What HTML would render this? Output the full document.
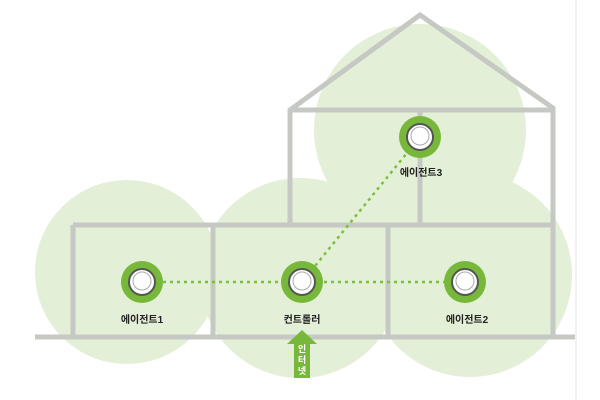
<!DOCTYPE html>
<html><head><meta charset="utf-8"><style>body{margin:0;background:#fff}svg{display:block}text{font-family:"Liberation Sans","Noto Sans CJK KR",sans-serif;font-weight:bold}</style></head><body>
<svg width="600" height="400" viewBox="0 0 600 400">
<line x1="576" y1="0" x2="576" y2="400" stroke="#e6e6e6" stroke-width="1"/>
<g fill="#e3efd6">
<circle cx="127" cy="272" r="92"/>
<circle cx="300" cy="278" r="100"/>
<circle cx="470" cy="275" r="102"/>
<circle cx="420" cy="130" r="106"/>
</g>
<g stroke="#c6c9c3" stroke-width="5" fill="none">
<polyline points="290,225 290,110 420,15 553,108 553,337"/>
<line x1="290" y1="110" x2="553" y2="110"/>
<line x1="420" y1="110" x2="420" y2="225"/>
<line x1="73" y1="225" x2="553" y2="225"/>
<line x1="73" y1="225" x2="73" y2="337"/>
<line x1="213" y1="225" x2="213" y2="337"/>
<line x1="388" y1="225" x2="388" y2="337"/>
<line x1="35" y1="337" x2="575" y2="337"/>
</g>
<g stroke="#7bbf3c" stroke-width="2.5" stroke-dasharray="3,4">
<line x1="142" y1="282" x2="465" y2="282"/>
<line x1="302" y1="282" x2="420" y2="137"/>
</g>
<g>
<circle cx="142" cy="282" r="21" fill="#77b83a"/><circle cx="142" cy="282" r="13" fill="#fff" stroke="#555" stroke-width="2"/><circle cx="142" cy="281" r="9" fill="none" stroke="#aaa" stroke-width="1"/>
<circle cx="302" cy="282" r="21" fill="#77b83a"/><circle cx="302" cy="282" r="13" fill="#fff" stroke="#555" stroke-width="2"/><circle cx="302" cy="281" r="9" fill="none" stroke="#aaa" stroke-width="1"/>
<circle cx="465" cy="282" r="21" fill="#77b83a"/><circle cx="465" cy="282" r="13" fill="#fff" stroke="#555" stroke-width="2"/><circle cx="465" cy="281" r="9" fill="none" stroke="#aaa" stroke-width="1"/>
<circle cx="420" cy="137" r="21" fill="#77b83a"/><circle cx="420" cy="137" r="13" fill="#fff" stroke="#555" stroke-width="2"/><circle cx="420" cy="136" r="9" fill="none" stroke="#aaa" stroke-width="1"/>
</g>
<g font-size="10" fill="#222" text-anchor="middle">
<text x="142" y="323">에이전트1</text>
<text x="302" y="323">컨트롤러</text>
<text x="467" y="323">에이전트2</text>
<text x="421" y="176">에이전트3</text>
</g>
<polygon points="302,330 317,344 310,344 310,378 294,378 294,344 287,344" fill="#77b83a"/>
<g font-size="9" fill="#fff" text-anchor="middle">
<text x="302" y="352">인</text><text x="302" y="363">터</text><text x="302" y="374">넷</text>
</g>
</svg>
</body></html>
